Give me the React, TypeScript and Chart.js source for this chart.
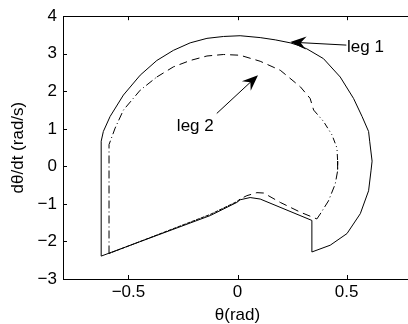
import React, { useEffect, useRef } from 'react';
import { Chart, registerables } from 'chart.js';

Chart.register(...registerables);

// leg 1 (solid) trajectory: theta (rad) and dtheta/dt (rad/s)
const leg1Theta = [-0.625, -0.625, -0.615, -0.584, -0.523, -0.446, -0.370, -0.294, -0.217, -0.140, -0.064, 0.012, 0.104, 0.173, 0.242, 0.280, 0.318, 0.394, 0.471, 0.532, 0.571, 0.601, 0.606, 0.617, 0.612, 0.601, 0.563, 0.502, 0.425, 0.341, 0.341, 0.104, 0.058, 0.012, -0.003, -0.125, -0.625];
const leg1Rate = [-2.39, 0.67, 0.93, 1.33, 1.90, 2.43, 2.82, 3.09, 3.29, 3.41, 3.46, 3.48, 3.43, 3.37, 3.29, 3.22, 3.13, 2.87, 2.38, 1.81, 1.33, 0.93, 0.67, 0.14, -0.12, -0.65, -1.26, -1.79, -2.10, -2.28, -1.44, -0.87, -0.83, -0.89, -0.96, -1.31, -2.39];

// leg 2 (broken) trajectory
const leg2Theta = [-0.589, -0.589, -0.561, -0.523, -0.446, -0.370, -0.294, -0.217, -0.140, -0.064, 0.012, 0.104, 0.196, 0.288, 0.333, 0.349, 0.394, 0.433, 0.456, 0.459, 0.459, 0.448, 0.417, 0.379, 0.364, 0.288, 0.196, 0.120, 0.089, 0.043, 0.012, -0.003, -0.125, -0.589];
const leg2Rate = [-2.32, 0.58, 1.02, 1.50, 2.03, 2.38, 2.65, 2.82, 2.94, 2.98, 2.96, 2.80, 2.56, 2.12, 1.81, 1.50, 1.20, 0.84, 0.49, 0.14, -0.12, -0.47, -0.92, -1.27, -1.40, -1.22, -0.96, -0.71, -0.70, -0.78, -0.87, -0.94, -1.28, -2.32];
// line pattern of each leg-2 segment
const leg2Pattern = ['dd', 'dd', 'dd', 'dd', 'dd', 'da', 'da', 'da', 'da', 'da', 'da', 'da', 'da', 'da', 'da', 'ddd', 'ddd', 'ddd', 'ddd', 'dd', 'dd', 'dd', 'dd', 'da', 'da', 'da', 'da', 'da', 'da', 'da', 'fd', 'fd', 'fd'];

const xTicks = [-0.5, 0, 0.5];
const yTicks = [-3, -2, -1, 0, 1, 2, 3, 4];
const xRange = [-0.8, 0.8];
const yRange = [-3, 4];

const xTitle = 'θ(rad)';
const yTitle = 'dθ/dt (rad/s)';
const note1 = 'leg 1';
const note2 = 'leg 2';
// annotation arrows: [tailTheta, tailRate, tipTheta, tipRate]
const arrow1 = [0.499, 3.23, 0.242, 3.31];
const arrow2 = [-0.095, 1.41, 0.094, 2.43];
const note1Pos = [0.502, 3.18];
const note2Pos = [-0.278, 1.06];

const FONT = '"Liberation Sans", Arial, Helvetica, sans-serif';
const FS = 17;

const dashes: Record<string, number[]> = {
  dd: [8, 3, 1, 3],
  da: [8, 5],
  ddd: [6, 3, 1, 3, 1, 3],
  fd: [4, 1],
};

const fmt = (v: number) => (v < 0 ? '\u2212' + String(Math.abs(v)) : String(v));

function drawArrow(ctx: CanvasRenderingContext2D, x1: number, y1: number, x2: number, y2: number) {
  const dx = x2 - x1;
  const dy = y2 - y1;
  const len = Math.hypot(dx, dy);
  const ux = dx / len;
  const uy = dy / len;
  const nx = -uy;
  const ny = ux;
  const L = 16;
  const W = 6.5;
  ctx.save();
  ctx.strokeStyle = '#000';
  ctx.fillStyle = '#000';
  ctx.lineWidth = 1;
  ctx.beginPath();
  ctx.moveTo(x1, y1);
  ctx.lineTo(x2 - ux * L * 0.6, y2 - uy * L * 0.6);
  ctx.stroke();
  ctx.beginPath();
  ctx.moveTo(x2, y2);
  ctx.lineTo(x2 - ux * L + nx * W, y2 - uy * L + ny * W);
  ctx.lineTo(x2 - ux * L * 0.65, y2 - uy * L * 0.65);
  ctx.lineTo(x2 - ux * L - nx * W, y2 - uy * L - ny * W);
  ctx.closePath();
  ctx.fill();
  ctx.restore();
}

const framePlugin = {
  id: 'frame',
  afterDraw(chart: any) {
    const { ctx, chartArea: a, scales } = chart;
    const xs = scales.x;
    const ys = scales.y;
    ctx.save();
    ctx.strokeStyle = '#000';
    ctx.lineWidth = 1;
    ctx.strokeRect(Math.round(a.left) + 0.5, Math.round(a.top) + 0.5, Math.round(a.right - a.left), Math.round(a.bottom - a.top));
    ctx.beginPath();
    const tl = 4;
    xTicks.forEach((t) => {
      const px = Math.round(xs.getPixelForValue(t)) + 0.5;
      ctx.moveTo(px, a.bottom);
      ctx.lineTo(px, a.bottom - tl);
      ctx.moveTo(px, a.top);
      ctx.lineTo(px, a.top + tl);
    });
    yTicks.forEach((t) => {
      const py = Math.round(ys.getPixelForValue(t)) + 0.5;
      ctx.moveTo(a.left, py);
      ctx.lineTo(a.left + tl, py);
      ctx.moveTo(a.right, py);
      ctx.lineTo(a.right - tl, py);
    });
    ctx.stroke();

    ctx.fillStyle = '#000';
    ctx.font = `${FS}px ${FONT}`;
    ctx.textAlign = 'center';
    ctx.textBaseline = 'middle';
    ctx.fillText(xTitle, xs.getPixelForValue(0), 315);
    ctx.save();
    ctx.translate(18, (a.top + a.bottom) / 2);
    ctx.rotate(-Math.PI / 2);
    ctx.fillText(yTitle, 0, 0);
    ctx.restore();

    drawArrow(ctx, xs.getPixelForValue(arrow1[0]), ys.getPixelForValue(arrow1[1]), xs.getPixelForValue(arrow1[2]), ys.getPixelForValue(arrow1[3]));
    drawArrow(ctx, xs.getPixelForValue(arrow2[0]), ys.getPixelForValue(arrow2[1]), xs.getPixelForValue(arrow2[2]), ys.getPixelForValue(arrow2[3]));
    ctx.textAlign = 'left';
    ctx.textBaseline = 'middle';
    ctx.fillText(note1, xs.getPixelForValue(note1Pos[0]), ys.getPixelForValue(note1Pos[1]));
    ctx.fillText(note2, xs.getPixelForValue(note2Pos[0]), ys.getPixelForValue(note2Pos[1]));
    ctx.restore();
  },
};

export default function App() {
  const ref = useRef<HTMLCanvasElement>(null);
  useEffect(() => {
    if (!ref.current) return;
    const chart = new Chart(ref.current, {
      type: 'scatter',
      data: {
        datasets: [
          {
            label: 'leg 1',
            data: leg1Theta.map((x, i) => ({ x, y: leg1Rate[i] })),
            showLine: true,
            borderColor: '#000',
            borderWidth: 1,
            pointRadius: 0,
            tension: 0,
            fill: false,
          },
          {
            label: 'leg 2',
            data: leg2Theta.map((x, i) => ({ x, y: leg2Rate[i] })),
            showLine: true,
            borderColor: '#000',
            borderWidth: 1,
            pointRadius: 0,
            tension: 0,
            fill: false,
            segment: {
              borderDash: (c: any) => dashes[leg2Pattern[c.p0DataIndex]] || [8, 5],
            },
          },
        ],
      },
      options: {
        animation: false,
        responsive: false,
        devicePixelRatio: 1,
        layout: { padding: { top: 14, left: 0, right: 0, bottom: 0 } },
        plugins: { legend: { display: false }, tooltip: { enabled: false } },
        scales: {
          x: {
            type: 'linear',
            min: xRange[0],
            max: xRange[1],
            grid: { display: false, drawTicks: false },
            border: { display: false },
            afterBuildTicks: (s: any) => {
              s.ticks = xTicks.map((v) => ({ value: v }));
            },
            afterFit: (s: any) => {
              s.height = 45;
            },
            ticks: {
              color: '#000',
              padding: 3,
              maxRotation: 0,
              font: { family: FONT, size: FS },
              callback: (v: any) => fmt(Number(v)),
            },
          },
          y: {
            type: 'linear',
            min: yRange[0],
            max: yRange[1],
            grid: { display: false, drawTicks: false },
            border: { display: false },
            afterBuildTicks: (s: any) => {
              s.ticks = yTicks.map((v) => ({ value: v }));
            },
            afterFit: (s: any) => {
              s.width = 63;
            },
            ticks: {
              color: '#000',
              padding: 6,
              font: { family: FONT, size: FS },
              callback: (v: any) => fmt(Number(v)),
            },
          },
        },
      },
      plugins: [framePlugin],
    });
    return () => chart.destroy();
  }, []);
  return (
    <div style={{ position: 'fixed', left: 0, top: 0, width: 408, height: 324, overflow: 'hidden', background: '#fff' }}>
      <canvas ref={ref} width={412} height={324} style={{ display: 'block', width: 412, height: 324 }} />
    </div>
  );
}
